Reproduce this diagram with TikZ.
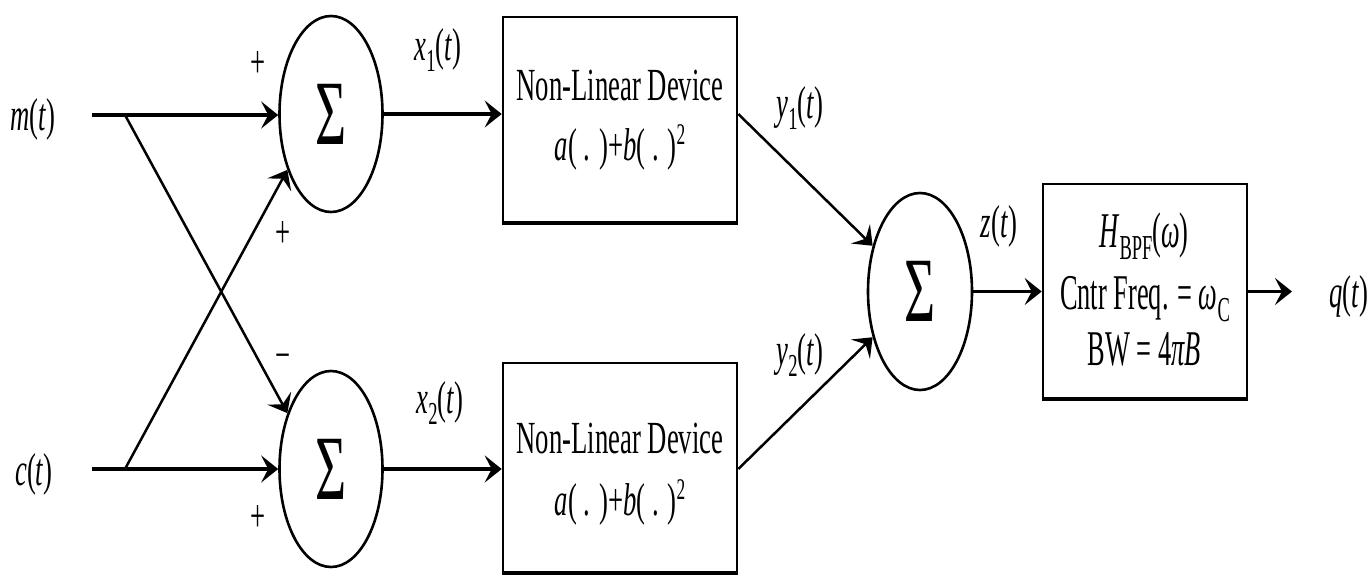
\documentclass[tikz,border=0pt]{standalone}
\usepackage{fontspec}
\setmainfont{Liberation Serif}[FakeStretch=0.58]
\usetikzlibrary{arrows.meta,shapes.geometric}

% signal label with subscript
\newcommand{\sg}[2]{\textit{#1}\raisebox{-11pt}{\fontsize{32}{32}\selectfont #2}(\textit{t})}
\newcommand{\lowsub}[1]{\raisebox{-12pt}{\fontsize{35}{35}\selectfont #1}}
\newcommand{\sq}{\raisebox{16pt}{\fontsize{30}{30}\selectfont 2}}
\newcommand{\bigsum}{{\fontsize{92}{92}\selectfont Σ}}
\newcommand{\nrw}[1]{\scalebox{0.91}[1]{#1}}

\begin{document}
\begin{tikzpicture}[x=1pt,y=-1pt,>={Stealth[length=17pt,width=27pt,inset=7pt]},
    summer/.style={ellipse,draw,line width=2.6pt,minimum width=103pt,minimum height=196pt,inner sep=0pt},
    blk/.style={rectangle,draw,line width=2.6pt,inner sep=0pt},
    lbl/.style={anchor=base,inner sep=0pt,font=\fontsize{46}{48}\selectfont},
    boxtxt/.style={anchor=base,inner sep=0pt,font=\fontsize{46}{48}\selectfont},
    bpftxt/.style={anchor=base,inner sep=0pt,font=\fontsize{50}{52}\selectfont},
    sgn/.style={inner sep=0pt,font=\fontsize{46}{46}\selectfont},
    mainln/.style={->,line width=3.4pt},
    diagln/.style={->,line width=2.5pt}]
    \useasboundingbox (0,0) rectangle (1371,576);

    % Sumadores
    \node[summer] (sum1) at (331,114) {\bigsum};
    \node[summer] (sum2) at (331,469) {\bigsum};
    \node[summer,minimum width=104pt,minimum height=197pt] (sum3) at (920,291.5) {\bigsum};

    % Bloques
    \node[blk,minimum width=234pt,minimum height=205pt] (nld1) at (620,119.5) {};
    \node[blk,minimum width=234pt,minimum height=209pt] (nld2) at (620,467.5) {};
    \node[blk,minimum width=204pt,minimum height=214pt] (bpf) at (1145,291) {};
    \draw[line width=4pt] (nld1.south west) -- (nld1.south east);
    \draw[line width=4pt] (nld2.south west) -- (nld2.south east);
    \draw[line width=4pt] (bpf.south west) -- (bpf.south east);

    % Texto de bloques
    \node[boxtxt] (nld1a) at (620,100) {Non-Linear Device};
    \node[boxtxt] (nld1b) at (620,160) {\textit{a}( . )+\textit{b}( . )\sq};
    \node[boxtxt] (nld2a) at (620,453) {Non-Linear Device};
    \node[boxtxt] (nld2b) at (620,515) {\textit{a}( . )+\textit{b}( . )\sq};
    \node[bpftxt] (bpfa) at (1144,247) {\nrw{\textit{H}\lowsub{BPF}(\textit{ω})}};
    \node[bpftxt] (bpfb) at (1145,309) {\nrw{Cntr Freq. = \textit{ω}\lowsub{C}}};
    \node[bpftxt] (bpfc) at (1144,365) {\nrw{BW = 4\textit{πB}}};

    % Entradas
    \node[lbl] (m) at (33,130) {\textit{m}(\textit{t})};
    \node[lbl] (c) at (34,485) {\textit{c}(\textit{t})};
    \coordinate (mstart) at (92,115);
    \coordinate (cstart) at (92,469);
    \coordinate (mbr) at (125,115);
    \coordinate (cbr) at (125,469);

    % Conexiones
    \draw[mainln] (mstart) -- (mstart -| sum1.west);
    \draw[mainln] (cstart) -- (cstart -| sum2.west);
    \draw[diagln] (mbr) -- (sum2.128);
    \draw[diagln] (cbr) -- (sum1.232);
    \draw[mainln] (sum1.east) -- (sum1.east -| nld1.west);
    \draw[mainln] (sum2.east) -- (sum2.east -| nld2.west);
    \draw[diagln] (sum1.east -| nld1.east) -- (sum3.136);
    \draw[diagln] (sum2.east -| nld2.east) -- (sum3.224);
    \draw[mainln] (sum3.east) -- (sum3.east -| bpf.west);
    \coordinate (qend) at (1292,291.5);
    \draw[mainln] (bpf.east |- qend) -- (qend);

    % Signos
    \node[sgn] (p1) at (258,65) {+};
    \node[sgn] (p2) at (283,235) {+};
    \node[sgn] (p3) at (283,362) {−};
    \node[sgn] (p4) at (258,518) {+};

    % Etiquetas de señales
    \node[lbl] (x1) at (438,60) {\sg{x}{1}};
    \node[lbl] (x2) at (440,413) {\sg{x}{2}};
    \node[lbl] (y1) at (800,118) {\sg{y}{1}};
    \node[lbl] (y2) at (800,365) {\sg{y}{2}};
    \node[lbl] (z) at (999,237) {\textit{z}(\textit{t})};
    \node[lbl] (q) at (1349,307) {\textit{q}(\textit{t})};
\end{tikzpicture}
\end{document}
